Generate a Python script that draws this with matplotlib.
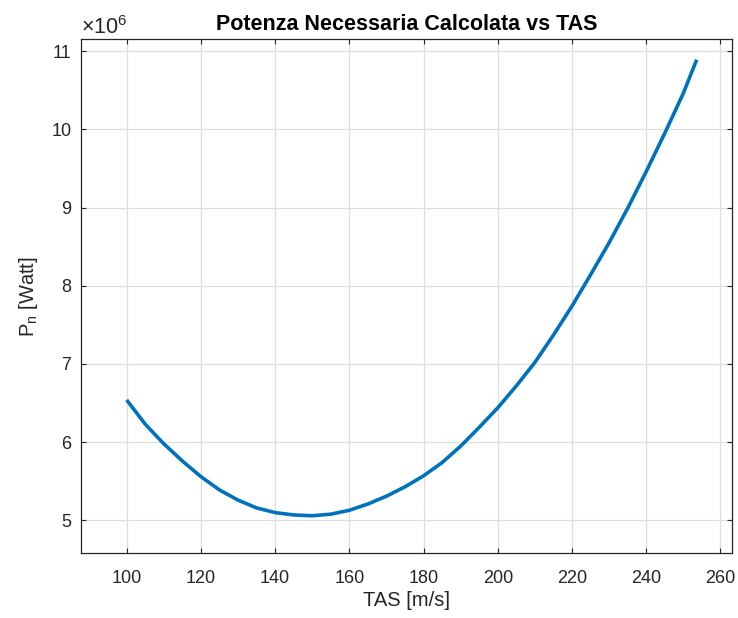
import matplotlib
matplotlib.use("Agg")
import matplotlib.pyplot as plt
from matplotlib.ticker import FixedLocator

# Data
tas = [100, 105, 110, 115, 120, 125, 130, 135, 140, 145, 150, 155, 160, 165,
       170, 175, 180, 185, 190, 195, 200, 205, 210, 215, 220, 225, 230, 235,
       240, 245, 250, 253.6]
p_n_mw = [6.54, 6.23, 5.98, 5.76, 5.56, 5.39, 5.26, 5.16, 5.10, 5.07, 5.06,
          5.08, 5.13, 5.21, 5.31, 5.43, 5.57, 5.74, 5.95, 6.19, 6.44, 6.72,
          7.02, 7.37, 7.74, 8.14, 8.55, 8.99, 9.46, 9.95, 10.46, 10.89]
x_ticks = [100, 120, 140, 160, 180, 200, 220, 240, 260]
y_ticks = [5, 6, 7, 8, 9, 10, 11]

plt.rcParams['font.family'] = ['Liberation Sans', 'DejaVu Sans']
plt.rcParams['mathtext.fontset'] = 'custom'
plt.rcParams['mathtext.rm'] = 'Liberation Sans'
plt.rcParams['mathtext.it'] = 'Liberation Sans:italic'

fig = plt.figure(figsize=(7.38, 6.18), dpi=100)
ax = fig.add_axes([0.1098, 0.1047, 0.8825, 0.8317])

ax.plot(tas, p_n_mw, color='#0072BD', linewidth=2.6, solid_capstyle='butt',
        solid_joinstyle='round')

ax.set_xlim(87.7, 263.2)
ax.set_ylim(4.58, 11.15)
ax.xaxis.set_major_locator(FixedLocator(x_ticks))
ax.yaxis.set_major_locator(FixedLocator(y_ticks))
ax.set_xticklabels([str(v) for v in x_ticks])
ax.set_yticklabels([str(v) for v in y_ticks])

ax.grid(True, color='#dedede', linewidth=0.9)
ax.set_axisbelow(True)
ax.tick_params(direction='in', length=3.5, width=0.8, colors='#262626',
               labelsize=13, top=True, right=True, pad=7)
ax.tick_params(axis='x', pad=12)
for s in ax.spines.values():
    s.set_color('#262626')
    s.set_linewidth(0.9)

ax.set_title('Potenza Necessaria Calcolata vs TAS', fontsize=15.5,
             fontweight='bold', color='black', pad=7)
ax.set_xlabel('TAS [m/s]', fontsize=14.5, color='#262626', labelpad=3)
ax.set_ylabel(r'P$_{\rm n}$ [Watt]', fontsize=14.5, color='#262626', labelpad=8)
ax.text(0.0, 1.0, r'$\times10^{6}$', transform=ax.transAxes, fontsize=15.5,
        color='#262626', ha='left', va='bottom')

fig.savefig('out.png', dpi=100)
